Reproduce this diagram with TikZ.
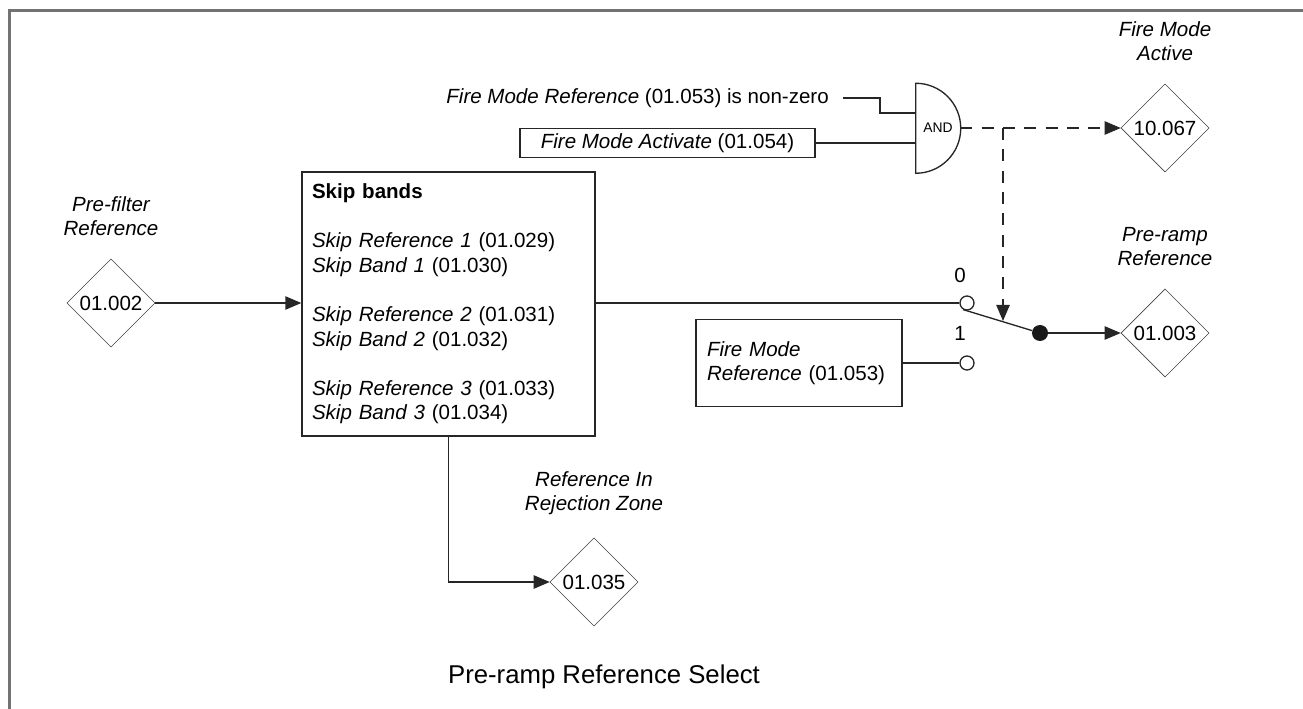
\documentclass[tikz,border=0pt]{standalone}
\usepackage{fontspec}
\setmainfont{Liberation Sans}
\usetikzlibrary{positioning,shapes.geometric,arrows.meta}

\begin{document}
\begin{tikzpicture}[x=0.75pt,y=-0.75pt,
  par/.style={draw=black!75,diamond,aspect=1,inner sep=0pt,minimum width=66pt,minimum height=66pt,font=\fontsize{15.4}{18.4}\selectfont},
  lbl/.style={align=center,inner sep=0pt,font=\fontsize{15.4}{18.4}\selectfont\itshape},
  txt/.style={inner sep=0pt,font=\fontsize{15.4}{18.4}\selectfont},
  blk/.style={draw=black!85,line width=1pt,fill=white},
  sig/.style={line width=1pt,draw=black!85},
  arr/.style={sig,-{Triangle[length=12pt,width=10pt]}},
  dsh/.style={arr,dash pattern=on 9pt off 7pt},
  pin/.style={circle,draw=black!85,line width=1pt,fill=white,inner sep=0pt,minimum size=10.5pt}]
\useasboundingbox (0,0) rectangle (1303,709);
\draw[black!55,line width=2.25pt] (9,709) -- (9,11) -- (1303,11);

\node[par] (p002) at (111,303) {01.002};
\node[lbl,above=17pt of p002] (p002l) {Pre-filter\\Reference};
\node[par] (p067) at (1165,128) {10.067};
\node[lbl,above=17pt of p067] (p067l) {Fire Mode\\Active};
\node[par] (p003) at (1165,333) {01.003};
\node[lbl,above=17pt of p003] (p003l) {Pre-ramp\\Reference};
\node[par] (p035) at (594,582) {01.035};
\node[lbl,above=17pt of p035] (p035l) {Reference In\\Rejection Zone};

\node[blk,txt,align=left,text width=204.75pt,inner xsep=7.5pt,minimum height=198pt] (skip) at (448.5,304) {\textbf{Skip bands}\\[18.4pt]
  \textit{Skip Reference 1} (01.029)\\
  \textit{Skip Band 1} (01.030)\\[18.4pt]
  \textit{Skip Reference 2} (01.031)\\
  \textit{Skip Band 2} (01.032)\\[18.4pt]
  \textit{Skip Reference 3} (01.033)\\
  \textit{Skip Band 3} (01.034)};

\node[txt,anchor=east] (fmnz) at (829,98) {\textit{Fire Mode Reference} (01.053) is non-zero};
\node[blk,txt,minimum width=221.25pt,minimum height=21.75pt] (fma) at (667.5,143) {\textit{Fire Mode Activate} (01.054)};
\node[inner sep=0pt,minimum width=33pt,minimum height=67.5pt,font=\fontsize{10.4}{12}\selectfont] (gate) at (938,128) {AND};
\draw[sig] (gate.north west) -- (gate.south west) arc[start angle=-90,end angle=90,radius=33.75pt];
\coordinate (in1) at (916,113);
\coordinate (in2) at (916,143);

\node[blk,txt,align=left,text width=138pt,inner xsep=8.25pt,minimum height=65.25pt] (fmr) at (799,363) {\textit{Fire Mode}\\\textit{Reference} (01.053)};
\node[pin] (s0) at (967,303) {};
\node[pin] (s1) at (967,363) {};
\node[txt] (n0) at (960,275) {0};
\node[txt] (n1) at (960,333) {1};
\node[circle,fill=black!90,inner sep=0pt,minimum size=12pt] (sw) at (1040,333) {};
\coordinate (br) at (1003,128);
\coordinate (hit) at (1003,321);

\draw[sig] ([xshift=10.5pt]fmnz.east) -- (880,98) |- (in1);
\draw[sig] (fma.east) -- (in2);
\draw[dsh] (gate.east) -- (p067);
\draw[dsh] (br) -- (hit);
\draw[arr] (p002.east) -- (p002.east -| skip.west);
\draw[sig] (s0 -| skip.east) -- (s0.west);
\draw[sig] (fmr.east) -- (s1.west);
\draw[sig] (s0.-120) -- (sw);
\draw[arr] (sw) -- (p003);
\draw[arr] (skip.south) |- (p035);

\node[font=\fontsize{19.3}{23}\selectfont] (title) at (604,677) {Pre-ramp Reference Select};
\end{tikzpicture}
\end{document}
